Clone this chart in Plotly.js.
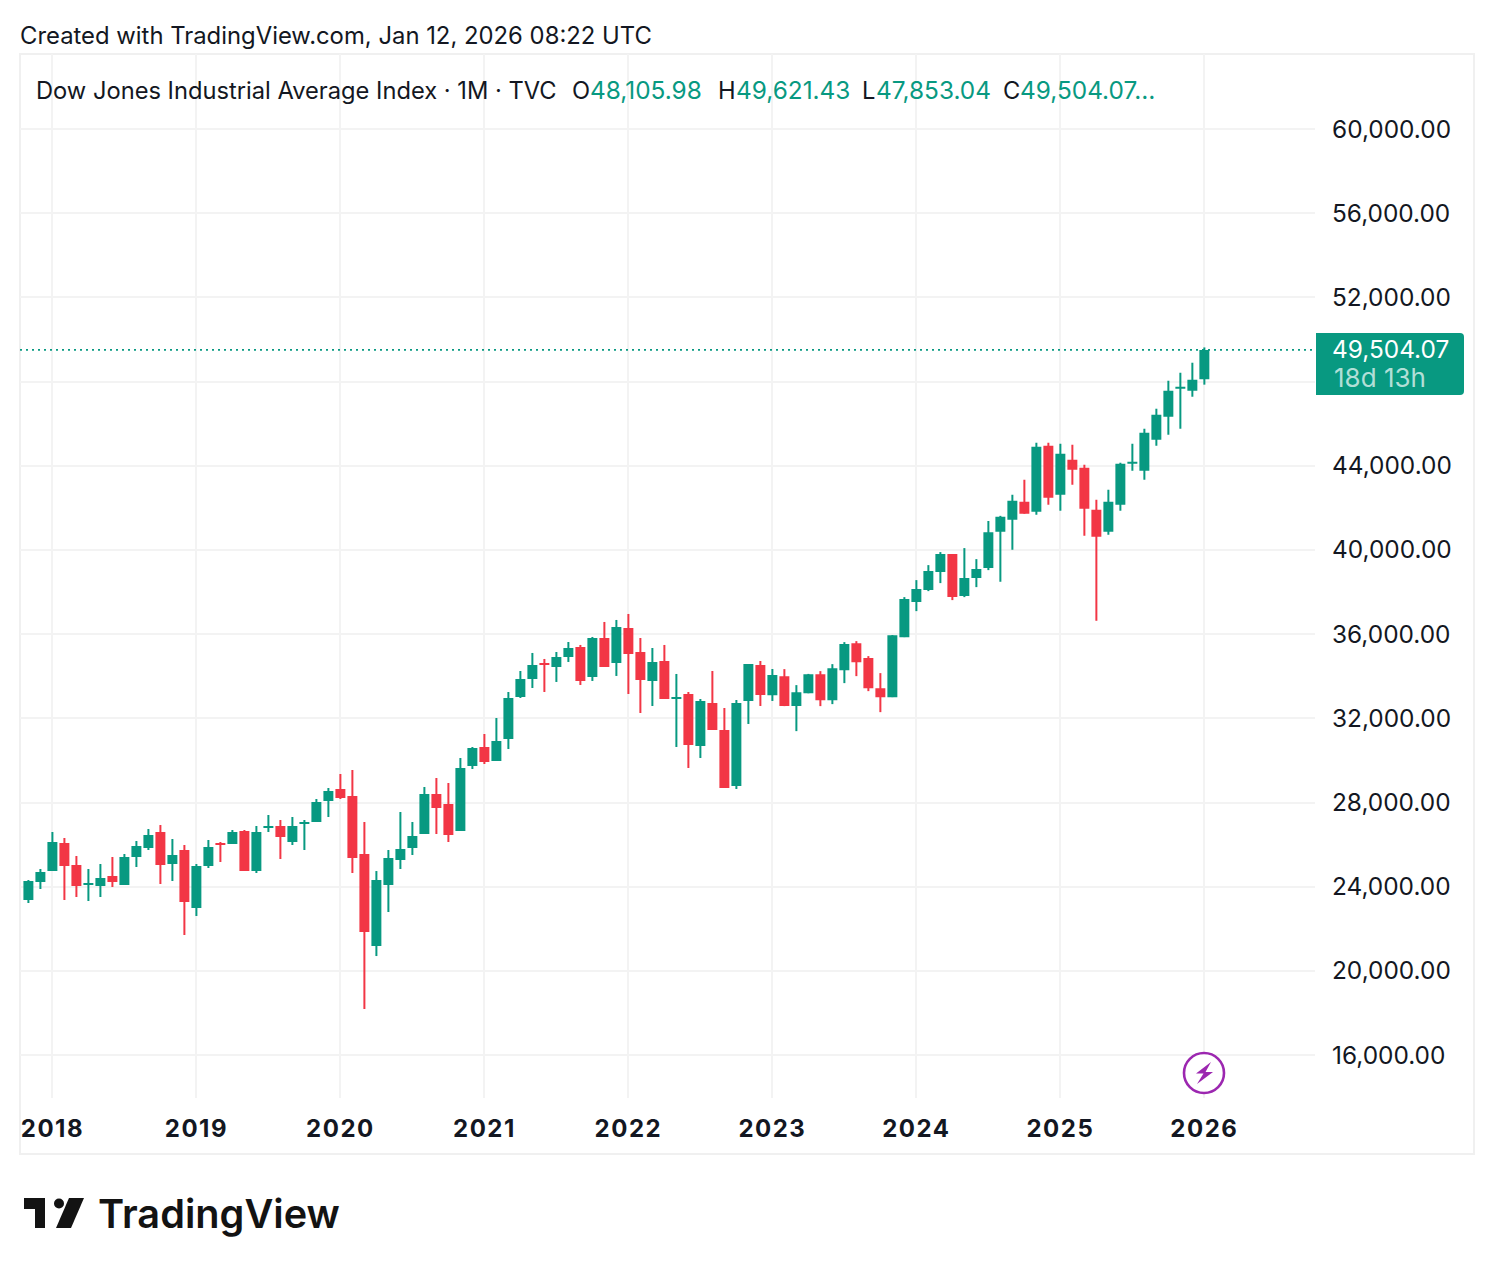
<!DOCTYPE html>
<html>
<head>
<meta charset="utf-8">
<title>Dow Jones Industrial Average Index</title>
<script src="https://cdn.plot.ly/plotly-3.0.1.min.js"></script>
<style>
  html, body { margin: 0; padding: 0; background: #fff; }
  #chart { width: 1494px; height: 1274px; }
  #chart text { font-variant-numeric: tabular-nums; }
  #chart .xtick text { letter-spacing: 1.5px; }
</style>
</head>
<body>
<div id="chart"></div>
<script>
// =========================
// DATA (monthly candles, one row per year)
// =========================
const months = [
  "2017-11", "2017-12",
  "2018-01", "2018-02", "2018-03", "2018-04", "2018-05", "2018-06", "2018-07", "2018-08", "2018-09", "2018-10", "2018-11", "2018-12",
  "2019-01", "2019-02", "2019-03", "2019-04", "2019-05", "2019-06", "2019-07", "2019-08", "2019-09", "2019-10", "2019-11", "2019-12",
  "2020-01", "2020-02", "2020-03", "2020-04", "2020-05", "2020-06", "2020-07", "2020-08", "2020-09", "2020-10", "2020-11", "2020-12",
  "2021-01", "2021-02", "2021-03", "2021-04", "2021-05", "2021-06", "2021-07", "2021-08", "2021-09", "2021-10", "2021-11", "2021-12",
  "2022-01", "2022-02", "2022-03", "2022-04", "2022-05", "2022-06", "2022-07", "2022-08", "2022-09", "2022-10", "2022-11", "2022-12",
  "2023-01", "2023-02", "2023-03", "2023-04", "2023-05", "2023-06", "2023-07", "2023-08", "2023-09", "2023-10", "2023-11", "2023-12",
  "2024-01", "2024-02", "2024-03", "2024-04", "2024-05", "2024-06", "2024-07", "2024-08", "2024-09", "2024-10", "2024-11", "2024-12",
  "2025-01", "2025-02", "2025-03", "2025-04", "2025-05", "2025-06", "2025-07", "2025-08", "2025-09", "2025-10", "2025-11", "2025-12",
  "2026-01"
];

const openPrices = [
  23366, 24222,
  24744, 26075, 25030, 24079, 24032, 24507, 24079, 25410, 25837, 26598, 25077, 25742,
  22986, 24982, 26075, 26028, 26645, 24744, 26788, 26883, 26123, 26978, 27073, 28071,
  28641, 28308, 25552, 21180, 24079, 25267, 25837, 26503, 28404, 27928, 26645, 29734,
  30637, 29972, 31018, 33014, 33869, 34629, 34439, 34915, 35390, 33964, 35817, 34629,
  36293, 35152, 33774, 34724, 32919, 33156, 30685, 32729, 31446, 28784, 32824, 34534,
  33101, 34004, 32579, 33196, 34099, 32864, 34289, 35572, 34860, 33434, 33006, 35857,
  37521, 38091, 38946, 39802, 37806, 38661, 39136, 40864, 41434, 42289, 41814, 44950,
  42622, 44285, 43905, 41909, 40864, 42147, 44095, 43762, 45236, 46328, 47659, 47564,
  48105.98
];

const highPrices = [
  24317, 24840,
  26598, 26313, 25457, 24840, 25077, 25410, 25552, 26170, 26740, 26930, 26265, 25980,
  25077, 26218, 26123, 26693, 26693, 26883, 27406, 27168, 27311, 27168, 28166, 28689,
  29354, 29544, 27073, 24744, 25742, 27548, 27073, 28736, 29164, 28926, 30114, 30637,
  31255, 32016, 33251, 34249, 35105, 34820, 35152, 35627, 35485, 35865, 36578, 36673,
  36958, 35817, 35342, 35485, 34107, 33251, 32919, 34249, 32491, 32871, 34582, 34724,
  34344, 34337, 33577, 34110, 34242, 34574, 35620, 35667, 34955, 34147, 35952, 37758,
  38566, 39279, 39897, 39802, 40087, 39564, 41376, 41620, 42622, 43335, 45093, 45093,
  45045, 44998, 44048, 42384, 42860, 44143, 45045, 45758, 46709, 48039, 48419, 48895,
  49621.43
];

const lowPrices = [
  23224, 23889,
  24744, 23366, 23509, 23319, 23509, 23984, 24079, 24935, 25742, 24127, 24269, 21703,
  22606, 24887, 25172, 26028, 24744, 24649, 26598, 25315, 25980, 25742, 27073, 27311,
  28166, 24649, 18187, 20705, 22796, 24840, 25505, 26503, 26503, 26123, 26645, 29592,
  29829, 29972, 30543, 32966, 33441, 33251, 33727, 34677, 33584, 33774, 34439, 34012,
  33156, 32253, 32586, 32919, 30638, 29640, 30115, 31446, 28689, 28642, 31731, 32586,
  32824, 32579, 31391, 33190, 32579, 32674, 33672, 34004, 33291, 32293, 33006, 35857,
  37093, 38043, 38424, 37616, 37758, 38233, 39041, 38488, 40008, 41719, 41672, 42147,
  41862, 43097, 40674, 36634, 40721, 41862, 43762, 43335, 44950, 45473, 45758, 47279,
  47853.04
];

const closePrices = [
  24269, 24697,
  26123, 24982, 24032, 24174, 24412, 24222, 25410, 25932, 26455, 25030, 25505, 23271,
  24982, 25885, 25980, 26598, 24744, 26598, 26883, 26360, 26883, 27073, 28023, 28546,
  28213, 25362, 21846, 24317, 25362, 25790, 26408, 28404, 27738, 26455, 29639, 30589,
  29924, 30923, 32966, 33869, 34534, 34534, 34915, 35342, 33774, 35817, 34439, 36340,
  35057, 33822, 34677, 32919, 33014, 30733, 32824, 31446, 28689, 32729, 34582, 33109,
  34052, 32579, 33244, 34099, 32864, 34384, 35525, 34669, 33434, 33006, 35952, 37663,
  38138, 39000, 39802, 37758, 38661, 39089, 40842, 41576, 42337, 41719, 44903, 42479,
  44570, 43810, 41957, 40626, 42289, 44095, 44190, 45568, 46424, 47564, 47754, 48087,
  49504.07
];

const priceTicks = [16000, 20000, 24000, 28000, 32000, 36000, 40000, 44000, 48000, 52000, 56000, 60000];
const hiddenPriceTick = 48000; // sits behind the last price tag
const yearTicks = ["2018-01", "2019-01", "2020-01", "2021-01", "2022-01", "2023-01", "2024-01", "2025-01", "2026-01"];
const yearLabels = ["2018", "2019", "2020", "2021", "2022", "2023", "2024", "2025", "2026"];

const lastPrice = 49504.07;

// =========================
// STYLE
// =========================
const UP = "#089981";
const DOWN = "#F23645";
const GRID = "#F3F3F3";
const TEXT = "#131722";
const FONT = "Inter, 'Liberation Sans', sans-serif";
const W = 1494;
const H = 1274;

// page pixels to paper fractions
const px = x => x / W;
const py = y => 1 - y / H;

function pathOf(points) {
  return points.map((p, i) => (i ? "L" : "M") + px(p[0]) + "," + py(p[1])).join(" ") + " Z";
}

function label(text, x, y, size, color, extra) {
  return Object.assign({
    text: text, x: px(x), y: py(y), xref: "paper", yref: "paper",
    xanchor: "left", yanchor: "middle", showarrow: false, borderpad: 0,
    font: { family: FONT, size: size, color: color }
  }, extra || {});
}

// =========================
// TRACES: bodies from the candlestick, wicks as broken lines
// =========================
function wickTrace(color, isThisColor) {
  const x = [];
  const y = [];
  months.forEach((m, i) => {
    if (!isThisColor(i)) return;
    x.push(m, m, null);
    y.push(lowPrices[i], highPrices[i], null);
  });
  return {
    type: "scatter", mode: "lines", x: x, y: y, hoverinfo: "skip", showlegend: false,
    line: { color: color, width: 2 }
  };
}

const upWicks = wickTrace(UP, i => closePrices[i] >= openPrices[i]);
const downWicks = wickTrace(DOWN, i => closePrices[i] < openPrices[i]);

const bodies = {
  type: "candlestick", x: months, open: openPrices, high: highPrices, low: lowPrices, close: closePrices,
  whiskerwidth: 0, showlegend: false,
  increasing: { line: { color: UP, width: 0 }, fillcolor: UP },
  decreasing: { line: { color: DOWN, width: 0 }, fillcolor: DOWN }
};

// =========================
// LAYOUT
// =========================
const shapes = [
  // outer frame
  { type: "rect", xref: "paper", yref: "paper", x0: px(20), x1: px(1474), y0: py(54), y1: py(1154),
    line: { color: "#F0F0F0", width: 2 }, layer: "below" },
  // last price line
  { type: "line", xref: "paper", yref: "y", x0: px(20), x1: px(1315), y0: lastPrice, y1: lastPrice,
    line: { color: UP, width: 1.6, dash: "2px,4px" }, layer: "above" },
  // last price tag
  { type: "path", xref: "paper", yref: "paper", fillcolor: UP, line: { width: 0 }, layer: "above",
    path: "M" + px(1316) + "," + py(333) + " L" + px(1460) + "," + py(333) +
      " Q" + px(1464) + "," + py(333) + " " + px(1464) + "," + py(337) +
      " L" + px(1464) + "," + py(391) +
      " Q" + px(1464) + "," + py(395) + " " + px(1460) + "," + py(395) +
      " L" + px(1316) + "," + py(395) + " Z" },
  // lightning badge
  { type: "circle", xref: "paper", yref: "paper", x0: px(1184), x1: px(1224), y0: py(1053), y1: py(1093),
    fillcolor: "#fff", line: { color: "#9C27B0", width: 2.6 }, layer: "above" },
  { type: "path", xref: "paper", yref: "paper", fillcolor: "#9C27B0", line: { width: 0 }, layer: "above",
    path: pathOf([[1211, 1062], [1196, 1073.5], [1203.5, 1073.5], [1197, 1084], [1213, 1072], [1205.5, 1072]]) },
  // TradingView logo mark
  { type: "path", xref: "paper", yref: "paper", fillcolor: "#131313", line: { width: 0 }, layer: "above",
    path: pathOf([[24, 1198], [45, 1198], [45, 1228], [35, 1228], [35, 1209], [24, 1209]]) },
  { type: "circle", xref: "paper", yref: "paper", x0: px(54), x1: px(64), y0: py(1198.5), y1: py(1208.5),
    fillcolor: "#131313", line: { width: 0 }, layer: "above" },
  { type: "path", xref: "paper", yref: "paper", fillcolor: "#131313", line: { width: 0 }, layer: "above",
    path: pathOf([[69, 1198], [84, 1198], [71, 1228], [56, 1228]]) }
];

const annotations = [
  label("Created with TradingView.com, Jan 12, 2026 08:22 UTC", 19, 36, 23.85, TEXT),
  label("Dow Jones Industrial Average Index · 1M · TVC", 35, 90, 23.7, TEXT),
  label("O", 571, 90, 23.7, TEXT), label("48,105.98", 589, 90, 24.4, UP),
  label("H", 717, 90, 23.7, TEXT), label("49,621.43", 735, 90, 24.4, UP),
  label("L", 861, 90, 23.7, TEXT), label("47,853.04", 875, 90, 24.4, UP),
  label("C", 1002, 90, 23.7, TEXT), label("49,504.07…", 1019, 90, 24.4, UP),
  label("49,504.07", 1331, 349, 24.4, "#FFFFFF"),
  label("18d 13h", 1333, 377, 26, "rgba(255,255,255,0.7)"),
  label("TradingView", 97, 1214, 39.7, "#131313", { font: { family: FONT, size: 39.7, color: "#131313", weight: 600 } })
];

const layout = {
  width: W,
  height: H,
  margin: { l: 0, r: 0, t: 0, b: 0 },
  paper_bgcolor: "#fff",
  plot_bgcolor: "#fff",
  showlegend: false,
  boxgap: 0.17,
  boxgroupgap: 0,
  font: { family: FONT, color: TEXT },
  xaxis: {
    type: "category",
    categoryorder: "array",
    categoryarray: months,
    domain: [px(20), px(1315)],
    range: [-0.7, 107.22],
    tickvals: yearTicks,
    ticktext: yearLabels,
    ticks: "",
    tickangle: 0,
    showline: false,
    zeroline: false,
    gridcolor: GRID,
    gridwidth: 2,
    tickfont: { family: FONT, size: 24, color: TEXT, weight: 700 },
    ticklabelstandoff: 14,
    rangeslider: { visible: false }
  },
  yaxis: {
    side: "right",
    domain: [py(1098), py(54)],
    range: [13960, 63563],
    tickvals: priceTicks,
    ticktext: priceTicks.map(v => v === hiddenPriceTick ? "" : v.toLocaleString("en-US") + ".00"),
    ticks: "",
    showline: false,
    zeroline: false,
    gridcolor: GRID,
    gridwidth: 2,
    tickfont: { family: FONT, size: 24.4, color: TEXT },
    ticklabelstandoff: 16
  },
  shapes: shapes,
  annotations: annotations
};

Plotly.newPlot("chart", [bodies, upWicks, downWicks], layout, { displayModeBar: false, responsive: false });
</script>
</body>
</html>
